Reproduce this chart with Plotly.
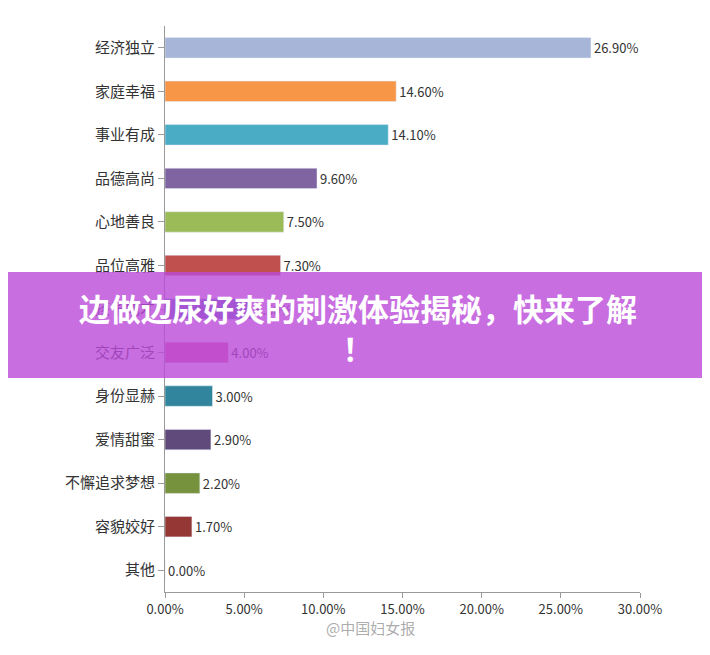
import plotly.graph_objects as go

categories = ["经济独立","家庭幸福","事业有成","品德高尚","心地善良","品位高雅","孩子成才","交友广泛","身份显赫","爱情甜蜜","不懈追求梦想","容貌姣好","其他"]
values = [26.9,14.6,14.1,9.6,7.5,7.3,5.5,4.0,3.0,2.9,2.2,1.7,0.0]
colors = ["#a7b5d9","#f79646","#4bacc6","#8064a2","#9bbb59","#c0504d","#4f81bd","#e0609a","#31859c","#604a7b","#76923c","#953735","#8db3e2"]
xticks = [0,5,10,15,20,25,30]

T, B, L, R = 18, 71, 157, 78
H = 655 - T - B
def py(pix):
    return 1 - ((pix - 8) - T) / H

fig = go.Figure(go.Bar(
    y=categories, x=values, orientation="h", marker_color=colors, width=0.47,
    text=[f"{v:.2f}%" for v in values], textposition="outside", cliponaxis=False,
    textfont=dict(size=13, color="#333"), hoverinfo="skip"))
fig.update_layout(
    width=710, height=655, margin=dict(l=L, r=R, t=T, b=B),
    plot_bgcolor="white", paper_bgcolor="white", showlegend=False,
    font=dict(family="Noto Sans CJK SC", color="#333"),
    xaxis=dict(range=[0,30], tickvals=xticks, ticktext=[f"{t:.2f}%" for t in xticks],
               showgrid=False, showline=True, linecolor="#999", ticks="outside",
               tickcolor="#999", tickfont=dict(size=13), zeroline=False),
    yaxis=dict(autorange="reversed", showline=True, linecolor="#999", ticks="outside",
               tickcolor="#999", ticklen=6, tickfont=dict(size=15), showgrid=False),
    shapes=[dict(type="rect", xref="paper", yref="paper", x0=-1, x1=2,
                 y0=py(378), y1=py(272),
                 fillcolor="rgba(186,74,217,0.8)", line_width=0, layer="above")],
    annotations=[
        dict(text="<b>边做边尿好爽的刺激体验揭秘，快来了解<br>！</b>", xref="paper", yref="paper",
             x=(358-165)/475, y=py(327), showarrow=False,
             font=dict(size=31, color="white"), align="center"),
        dict(text="@中国妇女报", xref="paper", yref="paper", x=(370-165)/475, y=py(640),
             showarrow=False, font=dict(size=15, color="rgba(150,150,150,0.8)")),
    ])
fig.write_html("out.html")
